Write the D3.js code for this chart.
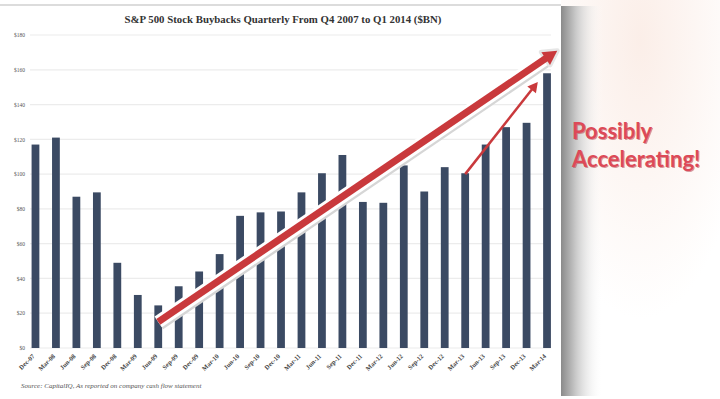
<!DOCTYPE html>
<html>
<head>
<meta charset="utf-8">
<script src="https://cdn.jsdelivr.net/npm/d3@7"></script>
<style>
  html, body { margin: 0; padding: 0; background: #fff; }
  svg { display: block; }
</style>
</head>
<body>
<div id="chart"></div>
<script>
// quarters shown on the x axis
const quarters = ["Dec-07","Mar-08","Jun-08","Sep-08","Dec-08","Mar-09","Jun-09","Sep-09","Dec-09","Mar-10",
  "Jun-10","Sep-10","Dec-10","Mar-11","Jun-11","Sep-11","Dec-11","Mar-12","Jun-12","Sep-12",
  "Dec-12","Mar-13","Jun-13","Sep-13","Dec-13","Mar-14"];
// buybacks, $BN
const buybacks = [117, 121, 87, 89.5, 49, 30.5, 24.5, 35.5, 44, 54,
  76, 78, 78.5, 89.5, 100.5, 111, 84, 83.5, 105, 90,
  104, 100.5, 117, 127, 129.5, 158];
const yTicks = [0, 20, 40, 60, 80, 100, 120, 140, 160, 180];
const titleText = "S&P 500 Stock Buybacks Quarterly From Q4 2007 to Q1 2014 ($BN)";
const sourceText = "Source: CapitalIQ, As reported on company cash flow statement";
const calloutLines = ["Possibly", "Accelerating!"];
// annotation arrows, in data space: quarter, offset in bands, value
const trendArrow = [{ q: "Jun-09", off: 0, v: 15 }, { q: "Mar-14", off: 0.5, v: 171 }];
const accelArrow = [{ q: "Mar-13", off: 0, v: 100 }, { q: "Mar-14", off: -0.45, v: 153 }];

const width = 720, height = 399;
const panelRight = 561;

const svg = d3.select("#chart").append("svg")
  .attr("width", width)
  .attr("height", height);

const defs = svg.append("defs");
const shadow = defs.append("linearGradient").attr("id", "edgeShadow");
shadow.append("stop").attr("offset", "0%").attr("stop-color", "#8a8a8a");
shadow.append("stop").attr("offset", "35%").attr("stop-color", "#c9c9c9");
shadow.append("stop").attr("offset", "100%").attr("stop-color", "#ffffff").attr("stop-opacity", 0);
const tint = defs.append("radialGradient").attr("id", "tint")
  .attr("cx", "50%").attr("cy", "10%").attr("r", "70%");
tint.append("stop").attr("offset", "0%").attr("stop-color", "#fbeee8");
tint.append("stop").attr("offset", "100%").attr("stop-color", "#ffffff");
const blur = defs.append("filter").attr("id", "soft").attr("x", "-10%").attr("y", "-30%")
  .attr("width", "120%").attr("height", "160%");
blur.append("feGaussianBlur").attr("stdDeviation", 0.6);

// background of the slide around the chart
svg.append("rect").attr("x", panelRight).attr("y", 0)
  .attr("width", width - panelRight).attr("height", height)
  .attr("fill", "url(#tint)");
svg.append("rect").attr("x", panelRight).attr("y", 6)
  .attr("width", 42).attr("height", 390)
  .attr("fill", "url(#edgeShadow)");
svg.append("line")
  .attr("x1", 0).attr("x2", panelRight).attr("y1", 5).attr("y2", 5)
  .attr("stroke", "#dcdcdc").attr("stroke-width", 2);

// scales
const x = d3.scaleBand()
  .domain(quarters)
  .range([18.9, 563.6])
  .padding(0.62);
const y = d3.scaleLinear()
  .domain([0, 180])
  .range([348, 35]);

const cx = q => x(q) + x.bandwidth() / 2;

// gridlines
svg.append("g")
  .selectAll("line")
  .data(yTicks)
  .join("line")
  .attr("x1", 30).attr("x2", 551)
  .attr("y1", d => y(d)).attr("y2", d => y(d))
  .attr("stroke", "#ececec").attr("stroke-width", 1.2);

// y axis labels
const yAxis = d3.axisLeft(y).tickValues(yTicks).tickSize(0).tickPadding(0)
  .tickFormat(d => "$" + d);
svg.append("g")
  .attr("transform", "translate(25,0)")
  .call(yAxis)
  .call(g => g.select(".domain").remove())
  .selectAll("text")
  .attr("font-family", "Liberation Serif, serif")
  .attr("font-size", 5.5)
  .attr("fill", "#555");

// bars
svg.append("g")
  .selectAll("rect")
  .data(quarters)
  .join("rect")
  .attr("x", d => x(d))
  .attr("width", x.bandwidth())
  .attr("y", (d, i) => y(buybacks[i]))
  .attr("height", (d, i) => y(0) - y(buybacks[i]))
  .attr("fill", "#3b4a63");

// x axis labels
const xAxis = d3.axisBottom(x).tickSize(0).tickPadding(0);
svg.append("g")
  .attr("transform", "translate(0," + (y(0) + 5) + ")")
  .call(xAxis)
  .call(g => g.select(".domain").remove())
  .selectAll("text")
  .attr("font-family", "Liberation Serif, serif")
  .attr("font-weight", "bold")
  .attr("font-size", 6.5)
  .attr("fill", "#444")
  .attr("text-anchor", "end")
  .attr("dy", "0.35em")
  .attr("transform", "translate(-2,2) rotate(-45)");

// title
svg.append("text")
  .attr("x", 283).attr("y", 23)
  .attr("text-anchor", "middle")
  .attr("font-family", "Liberation Serif, serif")
  .attr("font-weight", "bold")
  .attr("font-size", 10.8)
  .attr("fill", "#333")
  .text(titleText);

// source
svg.append("text")
  .attr("x", 21).attr("y", 388)
  .attr("font-family", "Liberation Serif, serif")
  .attr("font-style", "italic")
  .attr("font-size", 7)
  .attr("fill", "#555")
  .text(sourceText);

// arrows
const pt = a => [cx(a.q) + a.off * x.step(), y(a.v)];

function arrow(spec, w, head, outline) {
  const [x0, y0] = pt(spec[0]);
  const [x1, y1] = pt(spec[1]);
  const ang = Math.atan2(y1 - y0, x1 - x0);
  const bx = x1 - head * Math.cos(ang), by = y1 - head * Math.sin(ang);
  const nx = -Math.sin(ang), ny = Math.cos(ang);
  const hw = head * 0.55;
  const tri = [[x1, y1], [bx + nx * hw, by + ny * hw], [bx - nx * hw, by - ny * hw]];
  const g = svg.append("g");
  if (outline) {
    // soft shadow offset to the lower right, then the white rim
    g.append("line")
      .attr("x1", x0 + 1).attr("y1", y0 + 1.5).attr("x2", bx + 1).attr("y2", by + 1.5)
      .attr("stroke", "#d6d6d6").attr("stroke-width", w + 7)
      .attr("filter", "url(#soft)");
    g.append("line")
      .attr("x1", x0).attr("y1", y0).attr("x2", bx).attr("y2", by)
      .attr("stroke", "#fff").attr("stroke-width", w + 6);
    g.append("polygon").attr("points", tri.join(" "))
      .attr("fill", "#fff").attr("stroke", "#e6e6e6").attr("stroke-width", 5)
      .attr("stroke-linejoin", "round");
  }
  g.append("line")
    .attr("x1", x0).attr("y1", y0).attr("x2", bx + Math.cos(ang)).attr("y2", by + Math.sin(ang))
    .attr("stroke", "#c9393c").attr("stroke-width", w);
  g.append("polygon").attr("points", tri.join(" "))
    .attr("fill", "#c9393c");
}
arrow(trendArrow, 7, 14, true);
arrow(accelArrow, 2.5, 10, false);

// callout text
const callout = svg.append("g")
  .attr("font-family", "Lato, sans-serif")
  .attr("font-weight", "bold")
  .attr("font-size", 22);
callout.selectAll("text.sh")
  .data(calloutLines)
  .join("text")
  .attr("class", "sh")
  .attr("x", 573).attr("y", (d, i) => 140 + i * 28)
  .attr("fill", "#b03a44").attr("opacity", 0.5)
  .attr("filter", "url(#soft)")
  .text(d => d);
callout.selectAll("text.fg")
  .data(calloutLines)
  .join("text")
  .attr("class", "fg")
  .attr("x", 572).attr("y", (d, i) => 139 + i * 28)
  .attr("fill", "#dd4a58")
  .text(d => d);
</script>
</body>
</html>
